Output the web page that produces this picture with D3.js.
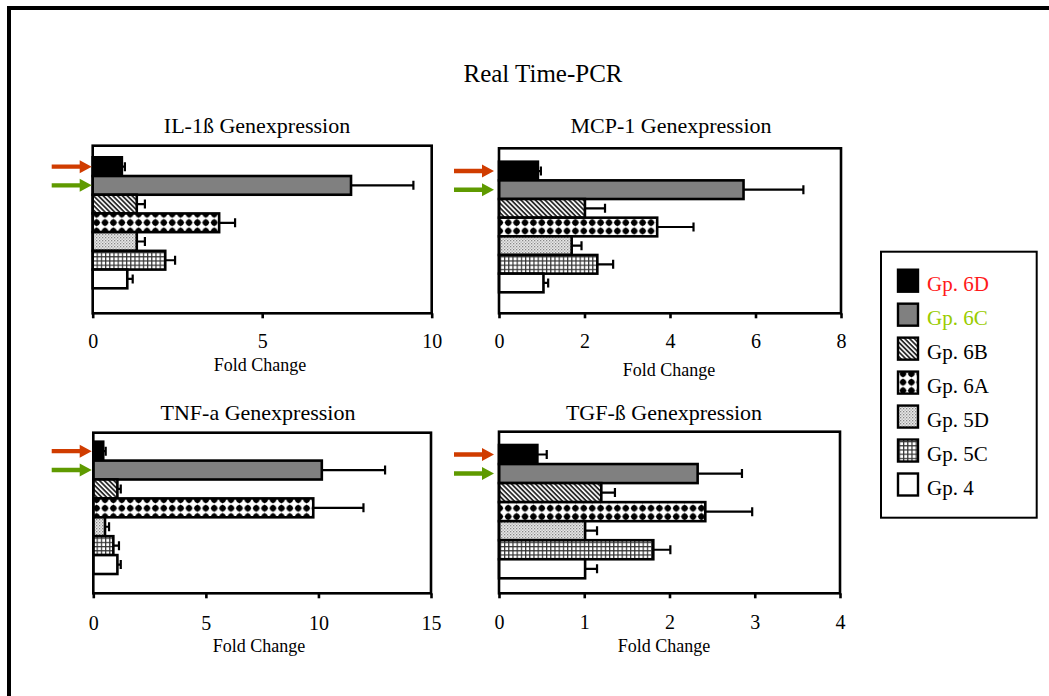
<!DOCTYPE html>
<html><head><meta charset="utf-8">
<script src="https://cdn.jsdelivr.net/npm/d3@7"></script>
<style>
body{margin:0;background:#fff}
svg{display:block}
text{font-family:"Liberation Serif","Times New Roman",serif;fill:#000}
</style>
</head><body>
<svg id="chart" width="1049" height="696"></svg>
<script>
// ---------- data ----------
const chartTitle = "Real Time-PCR";
const axisLabel = "Fold Change";
const groups = ["Gp. 6D", "Gp. 6C", "Gp. 6B", "Gp. 6A", "Gp. 5D", "Gp. 5C", "Gp. 4"];
const panelTitles = ["IL-1ß Genexpression", "MCP-1 Genexpression", "TNF-a Genexpression", "TGF-ß Genexpression"];

const il1bMean = [0.86, 7.62, 1.30, 3.73, 1.30, 2.14, 1.02];
const il1bErr  = [0.09, 1.84, 0.24, 0.47, 0.24, 0.29, 0.16];
const il1bTicks = [0, 5, 10];

const mcp1Mean = [0.91, 5.72, 2.01, 3.70, 1.70, 2.30, 1.04];
const mcp1Err  = [0.07, 1.40, 0.47, 0.85, 0.23, 0.37, 0.11];
const mcp1Ticks = [0, 2, 4, 6, 8];

const tnfMean = [0.44, 10.15, 1.07, 9.77, 0.52, 0.89, 1.07];
const tnfErr  = [0.11, 2.81, 0.15, 2.23, 0.18, 0.25, 0.15];
const tnfTicks = [0, 5, 10, 15];

const tgfMean = [0.45, 2.33, 1.20, 2.42, 1.01, 1.81, 1.01];
const tgfErr  = [0.11, 0.52, 0.16, 0.55, 0.14, 0.20, 0.14];
const tgfTicks = [0, 1, 2, 3, 4];

// ---------- styling / layout ----------
const fills = ["#000000", "#808080", "url(#p6B)", "url(#p6A)", "url(#p5D)", "url(#p5C)", "#ffffff"];
const legendColors = ["#ff1a1a", "#99cc00", "#000", "#000", "#000", "#000", "#000"];
const arrowColors = ["#d03c00", "#5f9a00"];

const panels = [
  {mean: il1bMean, err: il1bErr, ticks: il1bTicks, title: panelTitles[0],
   left: 92.7, right: 431.7, top: 145.7, bottom: 313.3, barTop: 157.3, barBottom: 288.3,
   titleX: 257, titleY: 133, labelX: 260, labelY: 371, tickPad: 16, arrowGap: 1},
  {mean: mcp1Mean, err: mcp1Err, ticks: mcp1Ticks, title: panelTitles[1],
   left: 499, right: 841, top: 148.3, bottom: 313.3, barTop: 161.7, barBottom: 292.3,
   titleX: 671, titleY: 133, labelX: 669, labelY: 376, tickPad: 16, arrowGap: 5},
  {mean: tnfMean, err: tnfErr, ticks: tnfTicks, title: panelTitles[2],
   left: 93.3, right: 431, top: 432.7, bottom: 593.3, barTop: 441.7, barBottom: 574,
   titleX: 258, titleY: 420, labelX: 259, labelY: 652, tickPad: 18, arrowGap: 1.6},
  {mean: tgfMean, err: tgfErr, ticks: tgfTicks, title: panelTitles[3],
   left: 499, right: 840, top: 431.7, bottom: 593.3, barTop: 445, barBottom: 578.3,
   titleX: 664, titleY: 420, labelX: 664, labelY: 652, tickPad: 17, arrowGap: 5}
];

const svg = d3.select("#chart");

// ---------- patterns ----------
const defs = svg.append("defs");
const p6B = defs.append("pattern").attr("id", "p6B").attr("patternUnits", "userSpaceOnUse")
  .attr("width", 3.4).attr("height", 3.4).attr("patternTransform", "rotate(45)");
p6B.append("rect").attr("width", 3.4).attr("height", 3.4).attr("fill", "#fff");
p6B.append("rect").attr("width", 3.4).attr("height", 1.8).attr("fill", "#2a2a2a");

const p6A = defs.append("pattern").attr("id", "p6A").attr("patternUnits", "userSpaceOnUse")
  .attr("width", 8.4).attr("height", 8.4);
p6A.append("rect").attr("width", 8.4).attr("height", 8.4).attr("fill", "#fff");
p6A.append("path").attr("d", "M4.2,0.5 L7.9,4.2 L4.2,7.9 L0.5,4.2 Z").attr("fill", "#000");
p6A.append("circle").attr("cx", 4.2).attr("cy", 4.2).attr("r", 3.0).attr("fill", "#000");

const p5D = defs.append("pattern").attr("id", "p5D").attr("patternUnits", "userSpaceOnUse")
  .attr("width", 3).attr("height", 3);
p5D.append("rect").attr("width", 3).attr("height", 3).attr("fill", "#e8e8e8");
p5D.append("rect").attr("width", 1.3).attr("height", 1.3).attr("fill", "#888");
p5D.append("rect").attr("x", 1.5).attr("y", 1.5).attr("width", 1.3).attr("height", 1.3).attr("fill", "#aaa");

const p5C = defs.append("pattern").attr("id", "p5C").attr("patternUnits", "userSpaceOnUse")
  .attr("width", 4.2).attr("height", 4.2);
p5C.append("rect").attr("width", 4.2).attr("height", 4.2).attr("fill", "#fff");
p5C.append("rect").attr("width", 4.2).attr("height", 1.2).attr("fill", "#333");
p5C.append("rect").attr("width", 1.2).attr("height", 4.2).attr("fill", "#333");

// ---------- frame ----------
svg.append("path").attr("d", "M9,700 V8 H1055").attr("fill", "none")
  .attr("stroke", "#000").attr("stroke-width", 4);

// ---------- title ----------
svg.append("text").attr("x", 543).attr("y", 82).attr("text-anchor", "middle")
  .attr("font-size", 25).text(chartTitle);

// ---------- panels ----------
panels.forEach(p => {
  const x = d3.scaleLinear().domain([p.ticks[0], p.ticks[p.ticks.length - 1]]).range([p.left, p.right]);
  const y = d3.scaleBand().domain(groups).range([p.barTop, p.barBottom]).padding(0);
  const g = svg.append("g");
  const rows = groups.map((grp, i) => ({grp, i, mean: p.mean[i], err: p.err[i]}));

  // bars
  g.selectAll("rect.bar").data(rows).join("rect").attr("class", "bar")
    .attr("x", x(0)).attr("y", d => y(d.grp))
    .attr("width", d => x(d.mean) - x(0)).attr("height", y.bandwidth())
    .attr("fill", d => fills[d.i]).attr("stroke", "#000").attr("stroke-width", 2.6);

  // error bars
  g.selectAll("path.err").data(rows).join("path").attr("class", "err")
    .attr("d", d => {
      const cy = y(d.grp) + y.bandwidth() / 2, x0 = x(d.mean), x1 = x(d.mean + d.err);
      return `M${x0},${cy} H${x1} M${x1},${cy - 4.5} V${cy + 4.5}`;
    })
    .attr("fill", "none").attr("stroke", "#000").attr("stroke-width", 2.2);

  // box
  g.append("rect").attr("x", p.left).attr("y", p.top)
    .attr("width", p.right - p.left).attr("height", p.bottom - p.top)
    .attr("fill", "none").attr("stroke", "#000").attr("stroke-width", 2.6);

  // axis
  const ax = g.append("g").attr("transform", `translate(0,${p.bottom})`)
    .call(d3.axisBottom(x).tickValues(p.ticks).tickSize(5).tickPadding(p.tickPad).tickFormat(d3.format("d")));
  ax.select(".domain").remove();
  ax.selectAll(".tick line").attr("stroke", "#000").attr("stroke-width", 2.6);
  ax.selectAll(".tick text").attr("font-size", 20).attr("font-family", "Liberation Serif, Times New Roman, serif").attr("fill", "#000");

  // labels
  g.append("text").attr("x", p.labelX).attr("y", p.labelY).attr("text-anchor", "middle")
    .attr("font-size", 18).text(axisLabel);
  g.append("text").attr("x", p.titleX).attr("y", p.titleY).attr("text-anchor", "middle")
    .attr("font-size", 22).text(p.title);

  // arrows for first two groups
  groups.slice(0, 2).forEach((grp, i) => {
    const cy = y(grp) + y.bandwidth() / 2, tip = p.left - p.arrowGap;
    g.append("path")
      .attr("d", `M${tip - 40},${cy - 2.2} H${tip - 12} V${cy - 6.5} L${tip},${cy} L${tip - 12},${cy + 6.5} V${cy + 2.2} H${tip - 40} Z`)
      .attr("fill", arrowColors[i]);
  });
});

// ---------- legend ----------
const lg = svg.append("g");
lg.append("rect").attr("x", 881).attr("y", 251.7).attr("width", 155.7).attr("height", 266)
  .attr("fill", "#fff").attr("stroke", "#000").attr("stroke-width", 2);
const ly = d3.scalePoint().domain(groups).range([280.7, 484.5]);
lg.selectAll("rect.sw").data(groups).join("rect").attr("class", "sw")
  .attr("x", 898).attr("y", d => ly(d) - 11).attr("width", 20).attr("height", 22)
  .attr("fill", (d, i) => fills[i]).attr("stroke", "#000").attr("stroke-width", 2.4);
lg.selectAll("text.lt").data(groups).join("text").attr("class", "lt")
  .attr("x", 927).attr("y", d => ly(d) + 10.5).attr("font-size", 21)
  .style("fill", (d, i) => legendColors[i]).text(d => d);
</script>
</body></html>
